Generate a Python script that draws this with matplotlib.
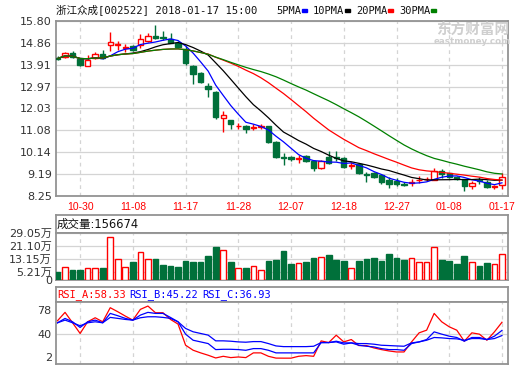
import numpy as np
import pandas as pd
import matplotlib
matplotlib.use('Agg')
import matplotlib.pyplot as plt
from matplotlib.patches import Rectangle

# 交易日 (2017-10-25 ~ 2018-01-17)
dates = ['10-25', '10-26', '10-27', '10-30', '10-31', '11-01', '11-02', '11-03', '11-06', '11-07',
         '11-08', '11-09', '11-10', '11-13', '11-14', '11-15', '11-16', '11-17', '11-20', '11-21',
         '11-22', '11-23', '11-24', '11-27', '11-28', '11-29', '11-30', '12-01', '12-04', '12-05',
         '12-06', '12-07', '12-08', '12-11', '12-12', '12-13', '12-14', '12-15', '12-18', '12-19',
         '12-20', '12-21', '12-22', '12-25', '12-26', '12-27', '12-28', '12-29', '01-02', '01-03',
         '01-04', '01-05', '01-08', '01-09', '01-10', '01-11', '01-12', '01-15', '01-16', '01-17']

opens = [14.22, 14.24, 14.41, 14.15, 13.88, 14.19, 14.38, 14.77, 14.76, 14.62,
         14.70, 14.78, 14.92, 15.16, 15.10, 15.02, 14.85, 14.60, 13.88, 13.55,
         12.98, 12.75, 11.60, 11.54, 11.25, 11.28, 11.20, 11.22, 11.25, 10.60,
         9.95, 9.92, 9.85, 9.99, 9.78, 9.45, 9.92, 9.93, 9.88, 9.53,
         9.62, 9.20, 9.26, 9.15, 8.95, 8.88, 8.77, 8.80, 8.93, 8.97,
         8.95, 9.32, 9.24, 9.06, 8.97, 8.68, 8.95, 8.85, 8.63, 8.72]
closes = [14.18, 14.41, 14.24, 13.90, 14.13, 14.36, 14.21, 14.88, 14.79, 14.68,
          14.56, 15.02, 15.16, 15.05, 15.05, 14.85, 14.68, 13.98, 13.52, 13.15,
          12.86, 11.65, 11.76, 11.34, 11.29, 11.12, 11.24, 11.26, 10.58, 9.95,
          9.90, 9.86, 9.89, 9.78, 9.45, 9.78, 9.67, 9.87, 9.50, 9.57,
          9.24, 9.15, 9.06, 8.87, 8.78, 8.78, 8.72, 8.84, 8.96, 9.00,
          9.32, 9.18, 9.09, 9.00, 8.66, 8.82, 8.90, 8.62, 8.70, 9.05]
highs = [14.28, 14.45, 14.50, 14.18, 14.33, 14.45, 14.55, 15.32, 14.94, 14.82,
         14.78, 15.25, 15.27, 15.63, 15.35, 15.28, 14.92, 14.70, 13.90, 13.62,
         13.12, 12.78, 11.92, 11.55, 11.40, 11.32, 11.37, 11.35, 11.28, 10.62,
         10.12, 9.97, 10.02, 10.02, 9.80, 9.80, 10.21, 10.17, 9.93, 9.70,
         9.66, 9.30, 9.28, 9.20, 9.05, 9.02, 8.85, 8.98, 9.10, 9.08,
         9.45, 9.40, 9.26, 9.12, 9.00, 8.90, 9.08, 8.92, 8.72, 9.23]
lows = [14.12, 14.22, 14.22, 13.85, 13.87, 14.16, 14.18, 14.52, 14.55, 14.48,
        14.52, 14.62, 14.88, 15.03, 14.98, 14.83, 14.62, 13.90, 13.08, 13.12,
        12.52, 11.57, 11.02, 11.12, 11.15, 10.98, 11.10, 11.15, 10.55, 9.88,
        9.60, 9.75, 9.66, 9.72, 9.35, 9.43, 9.65, 9.78, 9.47, 9.40,
        9.22, 8.85, 9.03, 8.78, 8.58, 8.70, 8.66, 8.66, 8.80, 8.88,
        8.93, 9.03, 9.02, 8.92, 8.48, 8.55, 8.78, 8.60, 8.55, 8.55]

# 成交量 (万股)
volume = [5.1, 8.2, 6.1, 6.1, 7.6, 7.2, 7.2, 26.2, 12.7, 8.2,
          11.2, 17.4, 12.7, 12.9, 9.2, 8.6, 8.0, 11.7, 11.2, 11.2,
          14.7, 20.3, 18.2, 11.2, 7.2, 7.6, 8.8, 6.1, 11.9, 12.3,
          17.8, 9.8, 10.3, 11.1, 13.5, 13.9, 15.4, 12.3, 11.7, 7.2,
          11.7, 12.9, 13.5, 11.9, 16.0, 13.7, 12.3, 13.3, 10.9, 10.9,
          20.1, 12.3, 11.7, 9.8, 14.7, 11.1, 8.6, 10.6, 9.8, 15.6674]

rsi_a = [60.8, 74.3, 57.5, 40.3, 59.1, 65.6, 59.1, 81.8, 75.3, 68.3,
         61.8, 79.1, 84.5, 73.7, 73.7, 62.9, 55.4, 21.4, 13.3, 9.0,
         5.2, 0.8, 3.5, 1.4, 2.4, 1.4, 9.0, 9.0, 3.5, 0.6,
         0.5, 0.5, 3.5, 4.6, 3.5, 28.3, 25.6, 37.5, 26.7, 30.5,
         20.8, 20.8, 17.0, 14.3, 12.1, 10.5, 10.5, 26.7, 41.3, 45.6,
         72.6, 59.1, 51.0, 45.6, 27.8, 41.3, 39.2, 29.4, 42.9, 58.33]
rsi_b = [57.5, 64.5, 59.1, 50.0, 59.1, 61.8, 57.5, 72.6, 68.9, 64.6,
         61.8, 69.9, 74.3, 72.6, 72.6, 66.1, 59.1, 39.2, 29.4, 26.7,
         24.0, 14.3, 14.8, 14.8, 14.3, 13.2, 15.9, 15.9, 13.2, 9.0,
         9.0, 9.0, 9.0, 9.0, 9.0, 25.6, 25.6, 26.7, 23.0, 25.1,
         21.3, 19.7, 18.6, 15.9, 14.3, 14.3, 13.2, 24.0, 26.7, 30.5,
         42.9, 39.2, 35.9, 33.8, 27.8, 33.8, 33.8, 30.5, 35.9, 45.22]
rsi_c = [57.5, 61.8, 57.5, 52.7, 57.5, 59.1, 57.5, 66.2, 64.6, 62.9,
         61.8, 65.6, 67.2, 67.2, 66.2, 64.6, 59.1, 48.4, 43.0, 40.3,
         37.6, 28.4, 28.4, 27.8, 26.7, 26.2, 27.2, 27.2, 24.0, 20.2,
         19.1, 19.1, 19.1, 19.1, 19.7, 25.6, 25.6, 27.8, 25.1, 25.1,
         24.0, 24.0, 23.0, 21.3, 20.8, 20.2, 19.7, 25.1, 26.7, 29.4,
         33.8, 33.2, 32.1, 31.6, 29.4, 32.1, 32.1, 30.5, 32.1, 36.93]

price_ticks = [8.25, 9.19, 10.14, 11.08, 12.03, 12.97, 13.91, 14.86, 15.80]
vol_ticks = [0, 5.21, 13.15, 21.10, 29.05]
rsi_ticks = [2, 40, 78]
ma_periods = [5, 10, 20, 30]
ma_colors = ['#0000ff', '#000000', '#ff0000', '#008000']

plt.rcParams['font.family'] = ['DejaVu Sans', 'Noto Sans CJK SC']
RED = '#ff0000'
GREEN = '#00703a'
BORDER = '#939393'
GRID = '#d4d4d4'
TXT = '#333333'

W, H = 520, 365
fig = plt.figure(figsize=(W / 100, H / 100), dpi=100)


def add_ax(x0, y0, x1, y1):
    return fig.add_axes([x0 / W, 1 - y1 / H, (x1 - x0) / W, (y1 - y0) / H])


x = np.arange(len(dates))
tick_pos = x[3::7]
tick_lab = dates[3::7]
o = np.array(opens)
c = np.array(closes)
up = c >= o


def style(ax, grid_x=True):
    for s in ax.spines.values():
        s.set_color(BORDER)
        s.set_linewidth(1.3)
    ax.set_xlim(-0.2, len(dates) - 0.2)
    ax.set_xticks(tick_pos)
    ax.tick_params(length=0, labelsize=8, colors=TXT, pad=3)
    if grid_x:
        ax.grid(axis='x', color=GRID, linestyle=(0, (3, 3)), linewidth=0.9)
    ax.set_axisbelow(True)


# ---- K线 ----
ax_p = add_ax(56, 21, 508, 196)
style(ax_p)
ax_p.set_ylim(8.25, 15.80)
ax_p.set_yticks(price_ticks)
ax_p.set_yticklabels([f'{t:.2f}' for t in price_ticks])
ax_p.grid(axis='y', color=GRID, linestyle='-', linewidth=0.9)
ax_p.set_xticklabels(tick_lab)
ax_p.tick_params(axis='x', colors=RED, labelsize=7.5, pad=4)
for lab in ax_p.get_xticklabels():
    lab.set_family('Liberation Sans')

col = np.where(up, RED, GREEN)
ax_p.vlines(x, lows, highs, colors=col, linewidth=1, zorder=2)
bottom = np.minimum(o, c)
height = np.maximum(np.abs(c - o), 0.012)
ax_p.bar(x, height, 0.72, bottom=bottom, color=np.where(up, 'white', GREEN),
         edgecolor=col, linewidth=1, zorder=3)

close_s = pd.Series(closes)
for n, mc in zip(ma_periods, ma_colors):
    ax_p.plot(x, close_s.rolling(n, min_periods=1).mean(), color=mc,
              linewidth=0.9, zorder=4)

# ---- 成交量 ----
ax_vh = add_ax(56, 215, 508, 232.7)
style(ax_vh, grid_x=False)
ax_vh.set_xticks([])
ax_vh.set_yticks([])
ax_vh.text(0.002, 0.45, f'成交量:{int(round(volume[-1] * 10000))}', transform=ax_vh.transAxes,
           ha='left', va='center', fontsize=8.3, color='#111111')

ax_v = add_ax(56, 232.7, 508, 280)
style(ax_v)
ax_v.set_xticklabels([])
ax_v.set_ylim(0, 29.05)
ax_v.set_yticks(vol_ticks)
ax_v.set_yticklabels(['0' if t == 0 else f'{t:.2f}万' for t in vol_ticks])
ax_v.grid(axis='y', color=GRID, linestyle='-', linewidth=0.9)
ax_v.bar(x, volume, 0.75, color=np.where(up, 'white', GREEN), edgecolor=col,
         linewidth=1, zorder=3)

# ---- RSI ----
ax_rh = add_ax(56, 287, 508, 302)
style(ax_rh, grid_x=False)
ax_rh.set_xticks([])
ax_rh.set_yticks([])
hx = 57
for name, vals, hc in [('RSI_A', rsi_a, RED), ('RSI_B', rsi_b, '#0000ff'), ('RSI_C', rsi_c, '#0000ff')]:
    s = f'{name}:{vals[-1]:.2f}'
    fig.text(hx / W, 1 - 294.5 / H, s, ha='left', va='center', fontsize=7.5,
             family='DejaVu Sans Mono', color=hc)
    hx += (len(s) + 1) * 6.05

ax_r = add_ax(56, 302, 508, 364.3)
style(ax_r)
ax_r.set_xticklabels([])
ax_r.set_ylim(-9.4, 91)
ax_r.set_yticks(rsi_ticks)
ax_r.axhline(40, color=GRID, linewidth=0.9, zorder=0)
ax_r.plot(x, rsi_a, color=RED, linewidth=0.9)
ax_r.plot(x, rsi_b, color='#0000ff', linewidth=0.9)
ax_r.plot(x, rsi_c, color='#0000ff', linewidth=0.9)

# ---- 标题与图例 ----
fig.text(56 / W, 1 - 10 / H, '浙江众成[002522] 2018-01-17 15:00', ha='left', va='center',
         fontsize=7.6, family=['DejaVu Sans Mono', 'Noto Sans CJK SC'], color='#111111')
lx = 276
for n, mc in zip(ma_periods, ma_colors):
    s = f'{n}PMA'
    fig.text(lx / W, 1 - 10.5 / H, s, ha='left', va='center', fontsize=7.5,
             family='DejaVu Sans Mono', color='#111111')
    lx += len(s) * 6 + 2
    fig.patches.append(Rectangle((lx / W, 1 - 12 / H), 5 / W, 3 / H, color=mc,
                                 transform=fig.transFigure, figure=fig))
    lx += 11

# 水印
fig.text(473 / W, 1 - 30 / H, '东方财富网', ha='center', va='center', fontsize=10.5,
         weight='bold', color='#cfcfcf', family=['Noto Sans CJK SC'])
fig.text(472 / W, 1 - 41 / H, 'eastmoney.com', ha='center', va='center', fontsize=6.3,
         weight='bold', color='#cfcfcf')

fig.savefig('out.png', dpi=100)
